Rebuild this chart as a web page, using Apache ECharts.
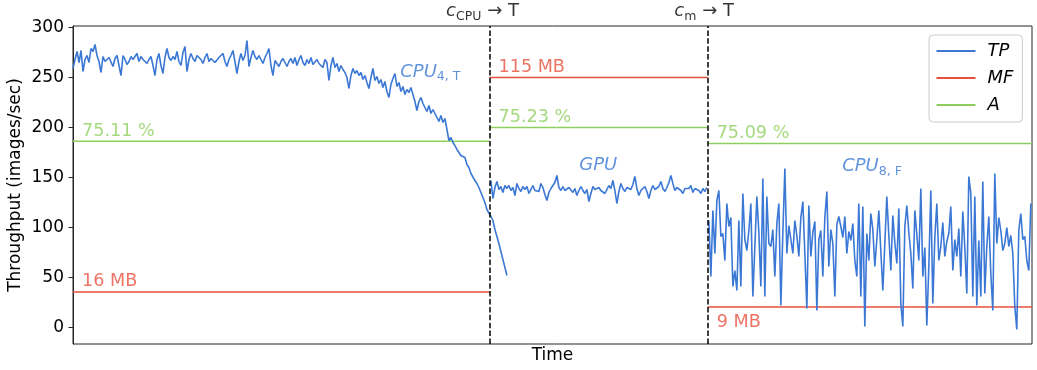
<!DOCTYPE html>
<html><head><meta charset="utf-8">
<script src="https://cdn.jsdelivr.net/npm/echarts@6/dist/echarts.min.js"></script>
<style>html,body{margin:0;padding:0;background:#fff}#c{width:1037px;height:370px}</style>
</head><body><div id="c"></div>
<script>
// ---------- data ----------
const yTicks = [0, 50, 100, 150, 200, 250, 300];

const cpu4Start = 0;
const cpu4TP = [
259,268,276,265,277,256,268,272,265,279,
276,283,272,266,255,271,266,264,270,268,
261,269,272,262,252,272,268,263,266,271,
268,270,274,266,271,268,270,264,268,271,
262,252,268,274,262,254,270,279,270,267,
271,268,276,266,262,275,281,256,268,274,
269,266,272,274,268,264,270,274,266,269,
271,265,267,270,272,274,266,261,268,272,
277,279,254,266,274,267,272,287,261,270,
277,271,268,272,270,264,270,274,279,262,
252,267,264,261,266,269,265,261,266,269,
264,270,262,268,272,265,262,268,264,270,
263,261,268,264,266,260,268,265,247,262,
270,260,264,256,262,258,255,250,239,252,
259,254,257,252,255,248,252,245,239,250,
259,247,251,244,248,240,246,236,230,243,
249,254,241,245,236,241,233,238,235,240,
242,226,217,226,230,224,220,216,222,214,
218,217,210,206,212,205,209,198,187,190,
185,182,178,180,172,174,170,163,160,154,
152,147,144,140,135,134,125,118,117,111,
107,98,91,84,76,68,60,52
];

const gpuStart = 209;
const gpuTP = [
147,129,140,146,138,141,135,142,139,142,
137,140,132,144,139,136,141,138,141,134,
138,142,137,139,136,144,140,133,127,135,
139,141,145,152,140,137,141,137,136,140,
139,135,139,132,137,141,137,134,138,126,
134,141,138,136,140,137,139,134,138,142,
139,147,137,124,136,144,139,136,140,142,
138,143,151,139,132,137,139,141,136,129,
137,142,138,139,141,146,139,136,140,145,
152,144,137,140,141,137,134,139,141,139,
142,135,139,141,137,134,139,136,140
];

const cpu8Start = 318;
const cpu8TP = [
107,51,117,74,127,137,91,94,67,124,
101,110,41,57,37,107,41,134,88,77,
97,124,31,81,131,95,41,149,31,131,
84,81,98,51,104,124,22,95,159,74,
102,88,74,107,92,71,110,126,74,19,
122,71,95,106,17,88,97,51,110,136,
61,98,84,31,103,111,101,90,111,74,
96,87,104,67,51,124,31,121,1,94,
67,114,98,61,88,117,76,37,84,131,
92,57,112,85,64,119,24,1,101,122,
95,74,39,117,93,67,139,51,80,2,
61,137,24,90,124,67,81,105,71,86,
94,121,57,88,71,99,51,116,80,34,
151,134,31,131,22,87,31,146,34,81,
111,54,17,154,84,110,97,77,84,100,
81,92,74,21,-2,97,114,88,91,67,
57,124
];

const switchTimes = [208.3, 317.4];
const switchLabels = ['{i|c}{s|CPU}{n| \u2192 T}', '{i|c}{s|m}{n| \u2192 T}'];
const phaseBounds = [0, 208.3, 317.4, 479.6];
const mfValues = [35.6, 250, 20.6];
const mfLabels = ['16 MB', '115 MB', '9 MB'];
const aValues = [186.3, 200, 184];
const aLabels = ['75.11 %', '75.23 %', '75.09 %'];
const phaseLabels = ['{i|CPU}{s|4, T}', '{i|GPU}', '{i|CPU}{s|8, F}'];
const legendNames = ['TP', 'MF', 'A'];

// ---------- chart ----------
const FONT = 'DejaVu Sans';
const BLUE = '#3b78d6', RED = '#e8503e', GREEN = '#8dcf5f', AXIS = '#262626';

function seg(start, vals) { return vals.map((v, i) => [start + i, v]); }
function rich(color) {
  return {
    i: {fontStyle: 'italic', fontSize: 18, fontFamily: FONT, color: color},
    s: {fontSize: 12.5, fontFamily: FONT, color: color, padding: [10, 0, 0, 0]},
    n: {fontSize: 18, fontFamily: FONT, color: color}
  };
}

const tpBase = {type: 'line', name: 'TP', symbol: 'none', animation: false, z: 3,
  lineStyle: {color: BLUE, width: 1.6}, itemStyle: {color: BLUE}};

const series = [
  Object.assign({}, tpBase, {
    data: seg(cpu4Start, cpu4TP),
    markLine: {symbol: 'none', silent: true, animation: false, label: {show: false},
      lineStyle: {color: '#000', width: 1.5, type: [5.5, 2.4]},
      data: switchTimes.map(x => ({xAxis: x}))}
  }),
  Object.assign({}, tpBase, {data: seg(gpuStart, gpuTP)}),
  Object.assign({}, tpBase, {data: seg(cpu8Start, cpu8TP)})
];
for (let k = 0; k < 3; k++) {
  series.push({type: 'line', name: 'MF', symbol: 'none', animation: false, z: 2,
    lineStyle: {color: RED, width: 1.5}, itemStyle: {color: RED},
    data: [[phaseBounds[k], mfValues[k]], [phaseBounds[k + 1], mfValues[k]]]});
  series.push({type: 'line', name: 'A', symbol: 'none', animation: false, z: 2,
    lineStyle: {color: GREEN, width: 1.5}, itemStyle: {color: GREEN},
    data: [[phaseBounds[k], aValues[k]], [phaseBounds[k + 1], aValues[k]]]});
}

// annotations
const notes = [];
const mfDy = [-10, -10.2, 15.8];
const aDy = [-9.7, -10.2, -10];
for (let k = 0; k < 3; k++) {
  notes.push({value: [phaseBounds[k], mfValues[k]], label: {show: true, position: 'right', distance: 0,
    offset: [9, mfDy[k]], formatter: mfLabels[k], color: RED, fontSize: 17.6, fontFamily: FONT}});
  notes.push({value: [phaseBounds[k], aValues[k]], label: {show: true, position: 'right', distance: 0,
    offset: [9, aDy[k]], formatter: aLabels[k], color: GREEN, fontSize: 17.6, fontFamily: FONT}});
}
const phaseAnchors = [[163.65, 255.5, 'right'], [262.65, 162.2, 'inside'], [384.65, 161, 'right']];
for (let k = 0; k < 3; k++) {
  notes.push({value: [phaseAnchors[k][0], phaseAnchors[k][1]], label: {show: true,
    position: phaseAnchors[k][2], distance: 0, formatter: phaseLabels[k], rich: rich(BLUE)}});
}
const topDx = [-7, -3.5];
for (let k = 0; k < 2; k++) {
  notes.push({value: [switchTimes[k], 301.5], label: {show: true, position: 'inside',
    offset: [topDx[k], -14.2], formatter: switchLabels[k], rich: rich('#000')}});
}
series.push({type: 'scatter', name: 'notes', symbolSize: 0, clip: false, silent: true,
  animation: false, z: 6, itemStyle: {color: 'transparent'}, data: notes});

const option = {
  animation: false,
  backgroundColor: '#fff',
  grid: {left: 73, right: 5, top: 26, bottom: 26, show: true, borderColor: AXIS, borderWidth: 1,
    outerBoundsMode: 'none', containLabel: false},
  legend: {
    data: legendNames, orient: 'vertical', left: 929, top: 35,
    itemWidth: 39, itemHeight: 16, itemGap: 9, padding: [7, 9, 8, 6.5],
    itemStyle: {opacity: 0},
    backgroundColor: 'rgba(255,255,255,0.8)', borderColor: '#cccccc', borderWidth: 1, borderRadius: 4,
    textStyle: {fontSize: 18, lineHeight: 16, fontStyle: 'italic', fontFamily: FONT, color: '#000', padding: [0, 0, 0, 7]}
  },
  xAxis: {
    type: 'value', min: 0, max: phaseBounds[3],
    axisLine: {show: false}, axisTick: {show: false}, axisLabel: {show: false}, splitLine: {show: false},
    name: 'Time', nameLocation: 'middle', nameGap: 3,
    nameTextStyle: {fontSize: 17, fontFamily: FONT, color: '#000'}
  },
  yAxis: {
    type: 'value', min: -16.5, max: 301.5,
    axisLine: {show: true, lineStyle: {color: AXIS, width: 1}},
    axisTick: {show: true, customValues: yTicks, length: 4.5, lineStyle: {color: AXIS, width: 1}},
    axisLabel: {customValues: yTicks, fontSize: 17, fontFamily: FONT, color: '#000', margin: 9},
    splitLine: {show: false},
    name: 'Throughput (images/sec)', nameLocation: 'middle', nameGap: 49, nameMoveOverlap: false,
    nameTextStyle: {fontSize: 17, fontFamily: FONT, color: '#000'}
  },
  series: series
};
const chart = echarts.init(document.getElementById('c'), null, {renderer: 'canvas'});
chart.setOption(option);
</script></body></html>
